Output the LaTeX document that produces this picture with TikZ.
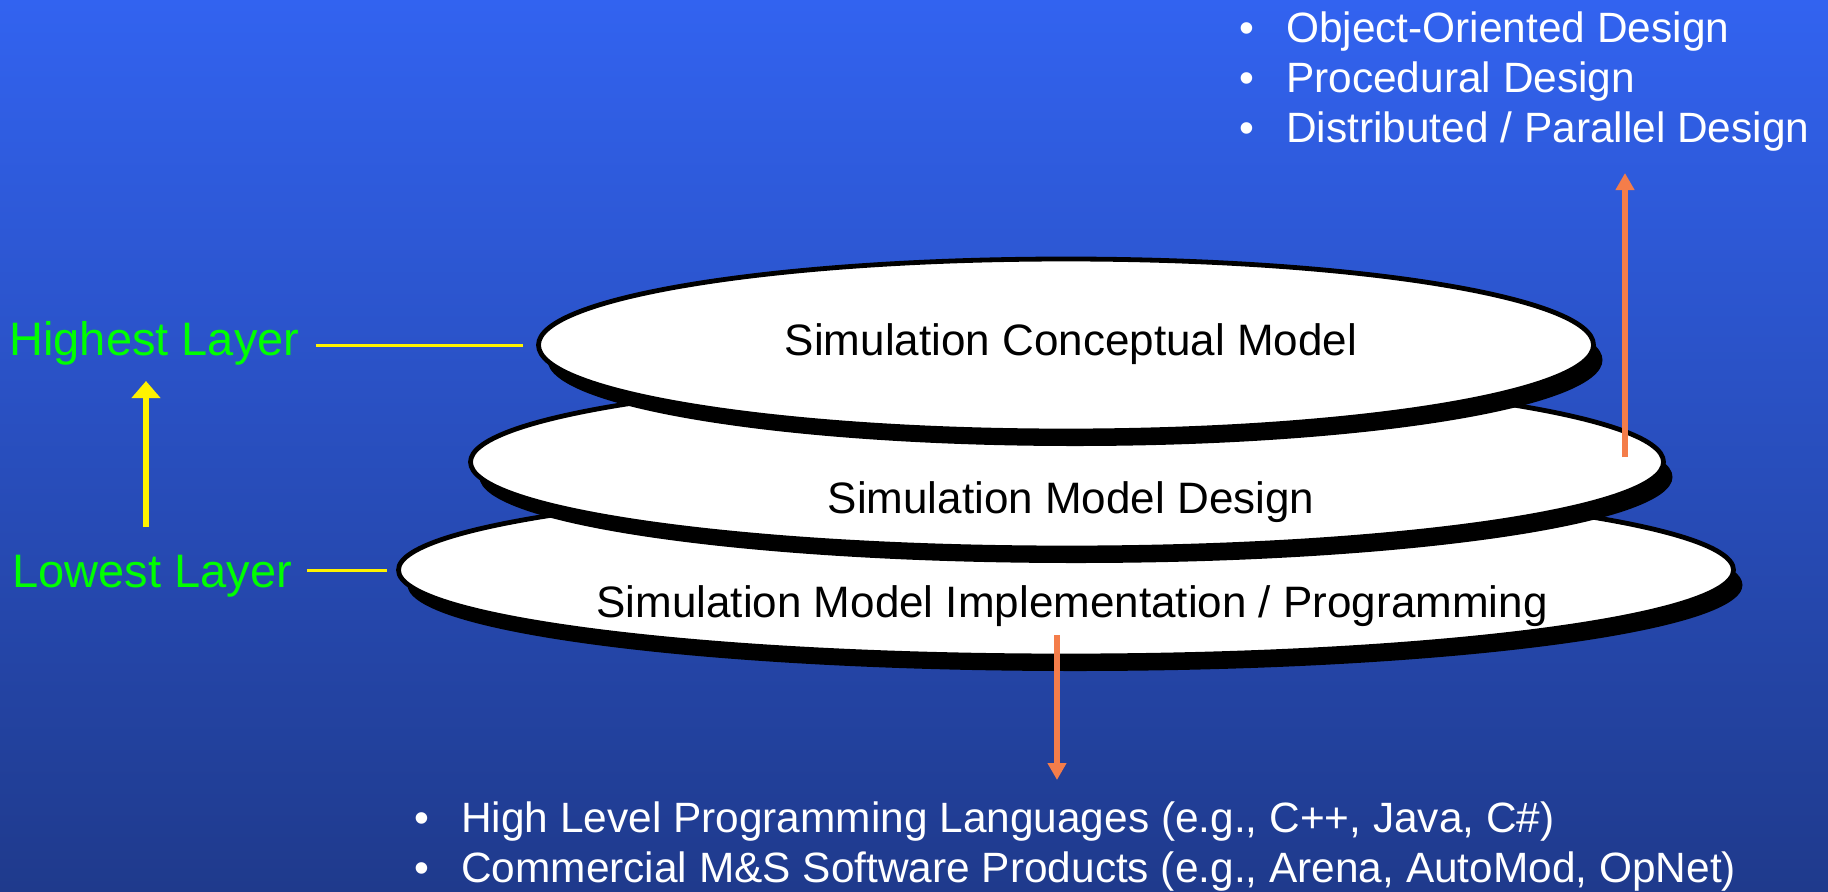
\documentclass[tikz,border=0pt]{standalone}
\usepackage{fontspec}
\setmainfont{Liberation Sans}
\usetikzlibrary{shapes.geometric,shadows,arrows.meta}
\definecolor{bgtop}{RGB}{50,99,240}
\definecolor{bgbot}{RGB}{31,58,140}
\definecolor{arrorange}{RGB}{244,125,74}
\definecolor{lblgreen}{RGB}{0,255,0}
\tikzset{
  lyr_e/.style = {ellipse, draw=black, fill=white, line width=2.4pt, minimum height=86pt, inner sep=0pt,
    drop shadow={shadow xshift=4.5pt, shadow yshift=-7.5pt, opacity=1, fill=black}},
  lyr_t/.style = {anchor=base, inner sep=0pt, font=\fontsize{22}{26}\selectfont},
  lbl_g/.style = {anchor=base west, inner sep=3.5pt, text=lblgreen, font=\fontsize{23.5}{28}\selectfont},
  lst_w/.style = {anchor=base west, inner sep=0pt, text=white, font=\fontsize{21.2}{25.2}\selectfont},
  lnk_y/.style = {draw=yellow, line width=1.5pt},
  arr_o/.style = {draw=arrorange, line width=3pt, -{Triangle[width=9pt,length=8.5pt]}},
  arr_y/.style = {draw=yellow, line width=3pt, -{Triangle[width=14pt,length=8.5pt]}}
}

\begin{document}
\begin{tikzpicture}[x=0.5pt,y=-0.5pt]
	% background
	\shade[top color=bgtop, bottom color=bgbot] (0,0) rectangle (1828,891);
	\useasboundingbox (0,0) rectangle (1828,891);

	% the three layers, lowest first
	\node [lyr_e, minimum width=667.5pt] (sim_mi) at (1066,570) {};
	\node [lyr_e, minimum width=596.5pt] (sim_md) at (1067,462) {};
	\node [lyr_e, minimum width=527.5pt] (sim_cm) at (1066,345) {};
	\node [lyr_t] (txt_cm) at (1071,355) {Simulation Conceptual Model};
	\node [lyr_t] (txt_md) at (1071,513) {Simulation Model Design};
	\node [lyr_t] (txt_mi) at (1072,617) {Simulation Model Implementation / Programming};

	% layer labels
	\node [lbl_g] (hi_l) at (2,355) {Highest Layer};
	\node [lbl_g] (lo_l) at (5,587) {Lowest Layer};
	\draw [lnk_y, shorten <=4.5pt, shorten >=6.5pt] (sim_cm.west -| hi_l.east) -- (sim_cm.west);
	\draw [lnk_y, shorten <=4pt, shorten >=4.5pt] (sim_mi.west -| lo_l.east) -- (sim_mi.west);
	\coordinate (ya_b) at (146,527);
	\coordinate (ya_t) at (146,381);
	\draw [arr_y] (ya_b) -- (ya_t);

	% design approaches
	\node [lst_w] (lst_d) at (1239,42) {\begin{tabular}[t]{@{}l@{\hspace{16pt}}l@{}}
		\textbullet & Object-Oriented Design\\
		\textbullet & Procedural Design\\
		\textbullet & Distributed / Parallel Design
	\end{tabular}};
	\coordinate (oa_b) at (1625,457);
	\coordinate (oa_t) at (1625,173);
	\draw [arr_o] (oa_b) -- (oa_t);

	% implementation tools
	\node [lst_w] (lst_p) at (414,832) {\begin{tabular}[t]{@{}l@{\hspace{16pt}}l@{}}
		\textbullet & High Level Programming Languages (e.g., C++, Java, C\#)\\
		\textbullet & Commercial M\&S Software Products (e.g., Arena, AutoMod, OpNet)
	\end{tabular}};
	\coordinate (ob_t) at (1057,635);
	\coordinate (ob_b) at (1057,780);
	\draw [arr_o] (ob_t) -- (ob_b);
\end{tikzpicture}
\end{document}
